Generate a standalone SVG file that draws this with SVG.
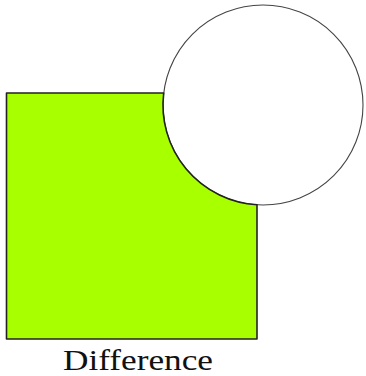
<svg xmlns="http://www.w3.org/2000/svg" width="366" height="376" viewBox="0 0 366 376">
<style>
.diff{fill:#a8ff00;stroke:#222;stroke-width:1.6;stroke-linejoin:round}
.circ{fill:#fff;stroke:#444;stroke-width:1.1}
.lbl{font-family:"Liberation Serif","DejaVu Serif",serif;font-size:30px;fill:#111}
</style>
<g id="circle"><circle class="circ" cx="263" cy="105" r="100"/></g>
<g id="difference"><path class="diff" d="M6.5 93 L163.7 93 A100 100 0 0 0 257 204.8 L257 339 L6.5 339 Z"/></g>
<g id="label"><text class="lbl" x="138" y="370" text-anchor="middle" textLength="150" lengthAdjust="spacingAndGlyphs">Difference</text></g>
</svg>
